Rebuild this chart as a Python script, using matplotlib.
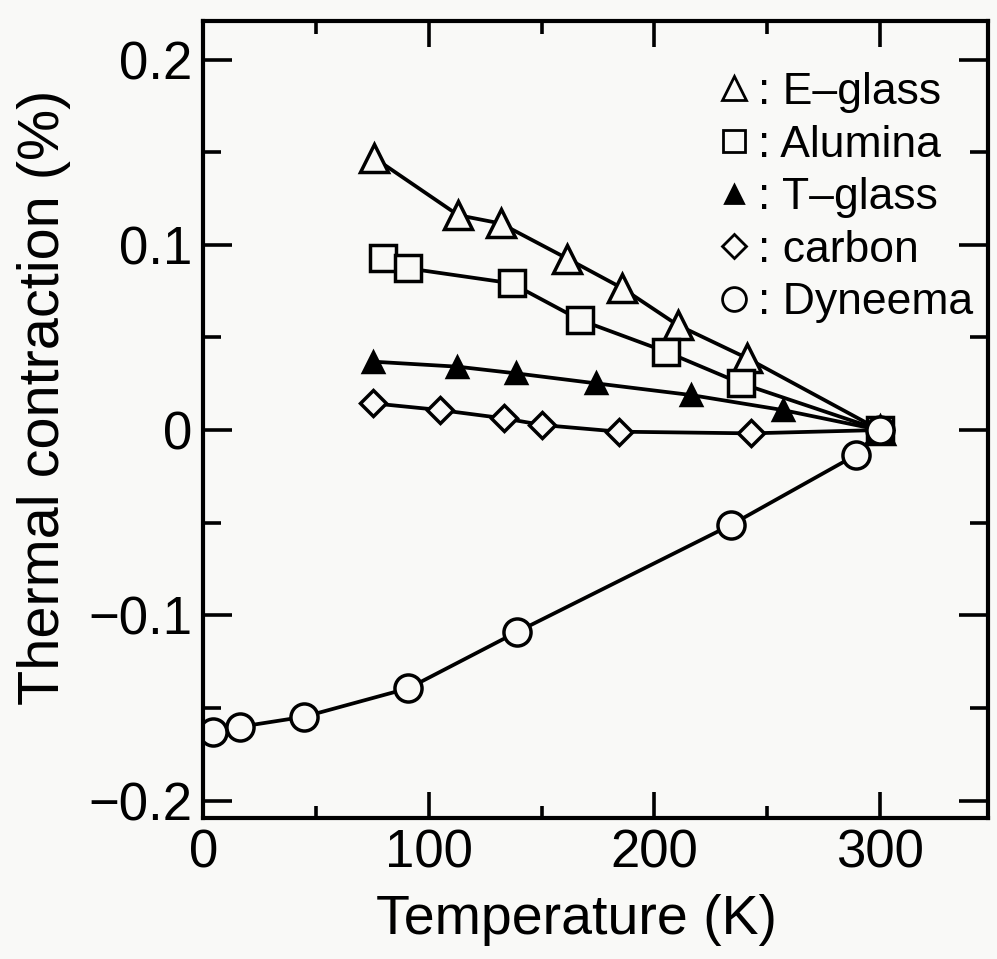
import numpy as np
import matplotlib
matplotlib.use('Agg')
import matplotlib.pyplot as plt
from matplotlib.lines import Line2D

# thermal contraction (%) vs temperature (K)
temp_eglass = [75.7, 113.0, 131.9, 161.5, 185.9, 210.3, 241.3, 300]
cont_eglass = [0.147, 0.116, 0.1115, 0.0925, 0.0765, 0.0567, 0.0387, 0.0]

temp_alumina = [79.9, 90.6, 136.7, 167.1, 205.1, 238.4, 300]
cont_alumina = [0.0927, 0.0873, 0.0792, 0.0594, 0.0423, 0.0252, 0.0]

temp_tglass = [75.3, 112.7, 138.6, 174.1, 216.2, 256.9, 300]
cont_tglass = [0.0369, 0.0342, 0.0306, 0.0252, 0.0189, 0.0108, 0.0]

temp_carbon = [75.3, 104.9, 133.4, 150.4, 184.4, 242.8, 300]
cont_carbon = [0.0144, 0.0108, 0.0063, 0.0027, -0.0009, -0.0018, 0.0]

temp_dyneema = [4.2, 16.3, 44.7, 91.0, 139.3, 233.9, 289.4, 300]
cont_dyneema = [-0.1629, -0.1602, -0.1548, -0.1394, -0.1089, -0.0513, -0.0135, 0.0]

x_ticks = [0, 100, 200, 300]
x_minor = [50, 150, 250]
y_ticks = [-0.2, -0.1, 0, 0.1, 0.2]
y_minor = [-0.15, -0.05, 0.05, 0.15]
y_ticklabels = ['\u22120.2', '\u22120.1', '0', '0.1', '0.2']

labels = [': E\u2013glass', ': Alumina', ': T\u2013glass', ': carbon', ': Dyneema']

plt.rcParams['font.family'] = ['Liberation Sans', 'DejaVu Sans']

bg = '#f9f9f7'
fig = plt.figure(figsize=(9.97, 9.59), dpi=100, facecolor=bg)
ax = fig.add_axes([0.2039, 0.1475, 0.991 - 0.2039, 0.9781 - 0.1475], facecolor=bg)

lw = 2.7
mew = 2.5
series = [
    (temp_eglass, cont_eglass, dict(marker='^', ms=19.5, mfc=bg)),
    (temp_alumina, cont_alumina, dict(marker='s', ms=18.5, mfc=bg)),
    (temp_tglass, cont_tglass, dict(marker='^', ms=15, mfc='k')),
    (temp_carbon, cont_carbon, dict(marker='D', ms=13.5, mfc=bg)),
    (temp_dyneema, cont_dyneema, dict(marker='o', ms=19.5, mfc=bg)),
]
for x, y, st in series:
    ax.plot(x, y, '-', c='k', lw=lw, mec='k', mew=mew, **st)

ax.set_xlim(0, 348)
ax.set_ylim(-0.2092, 0.2208)

ax.set_xticks(x_ticks)
ax.set_xticks(x_minor, minor=True)
ax.set_yticks(y_ticks)
ax.set_yticklabels(y_ticklabels)
ax.set_yticks(y_minor, minor=True)

ax.tick_params(axis='both', which='both', direction='in', top=True, right=True, width=2.6, labelsize=38)
ax.tick_params(axis='x', which='major', length=19, pad=8)
ax.tick_params(axis='x', which='minor', length=9)
ax.tick_params(axis='y', which='major', length=21, pad=8)
ax.tick_params(axis='y', which='minor', length=13)
for sp in ax.spines.values():
    sp.set_linewidth(3.0)

ax.set_xlabel('Temperature (K)', fontsize=40, labelpad=11)
ax.xaxis.label.set_x(0.475)
ax.set_ylabel('Thermal contraction (%)', fontsize=41.5, labelpad=12)
ax.yaxis.label.set_y(0.527)

# legend: marker followed by ": name"
handles = [Line2D([], [], ls='none', c='k', mec='k', mew=2.0, **dict(st, ms=st['ms'] * 0.88)) for _, _, st in series]
leg = ax.legend(handles, labels, loc='upper left', bbox_to_anchor=(716 / 997, 1 - 72 / 959),
                bbox_transform=fig.transFigure, frameon=False, fontsize=32,
                handlelength=0.8, handletextpad=0.15, labelspacing=0.26,
                borderpad=0, borderaxespad=0)

fig.savefig('out.png', dpi=100, facecolor=bg)
